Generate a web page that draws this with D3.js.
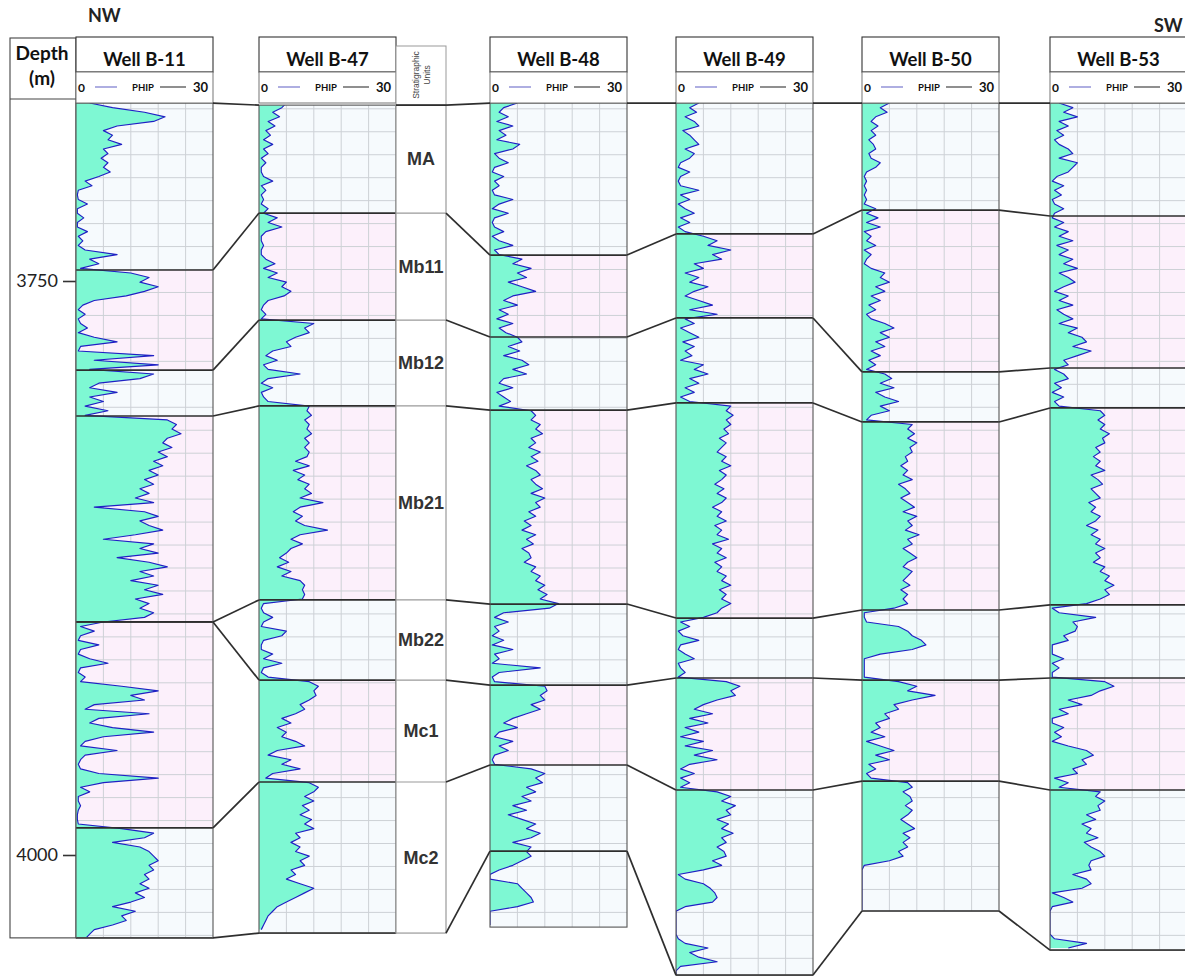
<!DOCTYPE html>
<html>
<head>
<meta charset="utf-8">
<script src="https://cdn.jsdelivr.net/npm/d3@7"></script>
<style>
  body { margin: 0; background: #fff; }
  svg { display: block; }
</style>
</head>
<body>
<svg id="chart" width="1185" height="980"></svg>
<script>
// ---------------- data ----------------
const wellNames = ["Well B-11", "Well B-47", "Well B-48", "Well B-49", "Well B-50", "Well B-53"];
const zoneNames = ["MA", "Mb11", "Mb12", "Mb21", "Mb22", "Mc1", "Mc2"];

// Formation tops (m): top MA, Mb11, Mb12, Mb21, Mb22, Mc1, Mc2, base Mc2
const topsB11 = [3672.5, 3745.2, 3788.8, 3808.8, 3898.5, 3898.5, 3988.2, 4036.1];
const topsB47 = [3673.4, 3720.4, 3767.0, 3804.4, 3888.9, 3923.8, 3968.2, 4034.0];
const topsB48 = [3672.5, 3738.7, 3774.4, 3806.2, 3890.7, 3926.0, 3960.8, 3998.3];
const topsB49 = [3672.5, 3729.5, 3766.1, 3803.1, 3896.8, 3922.9, 3971.7, 4052.3];
const topsB50 = [3672.5, 3719.1, 3789.6, 3811.4, 3893.3, 3923.8, 3967.8, 4024.4];
const topsB53 = [3672.5, 3721.7, 3787.9, 3805.3, 3891.1, 3922.9, 3971.7, 4041.4];

// Deepest logged depth of each well (m)
const logBottom = [4036.1, 4034.0, 4031.4, 4052.3, 4024.4, 4041.4];

// PHIP samples (%), first sample at 3672.5 m, one sample every 2 m
const sampleTop = 3672.5;
const sampleStep = 2;

const phipB11 = [
  3, 8, 15, 19.5, 17, 9, 6, 8, 7, 10, 6, 7, 5.5, 7, 6, 7.5, 5, 2, 3.5, 0.5, 0.3, 0.5, 2.5, 0.3, 0.3, 1.7, 0.3, 0.3, 2.5, 0.5, 1.5, 0.5, 2, 9, 3, 5, 1,
  12, 16, 14, 18, 15, 11, 4, 1.5, 0.5, 2, 0.5, 1, 2.5, 0.5, 4, 9, 1, 0.5, 17, 4, 18, 3,
  17, 14, 5, 3, 9, 3, 6, 2, 7, 2,
  20, 22, 21, 23, 20, 19, 21, 18, 20, 17, 19, 16, 18, 15, 17, 14, 16, 13, 17, 4, 15, 18, 14, 16, 19, 13, 6, 17, 14, 18, 9, 16, 20, 14, 17, 12, 18, 15, 19, 13, 16, 14, 17, 15, 6,
  1, 4, 1, 0.5, 5, 1, 0.5, 3, 7, 1, 0.5, 2, 1, 10, 18, 12, 15, 4, 2, 16, 5, 3, 8, 17, 6, 2, 1, 9, 2, 1, 0.5, 1, 5, 18, 6, 1, 3, 0.5, 0.5, 1, 0.5, 0.3, 0.3, 0.5,
  10, 17, 15, 8, 14, 16, 17, 18, 16, 17, 15, 16, 14, 16, 13, 15, 12, 8, 13, 10, 11, 8, 4, 3, 2
];
const phipB47 = [
  6, 5, 3, 4.5, 2, 3.5, 1.5, 2.5, 1, 3, 1, 2, 0.5, 1.5, 0.5, 0.5, 1, 3, 0.5, 1.5, 0.5, 1, 0.5, 2,
  1, 4, 2, 5, 1.5, 0.5, 0.5, 1, 0.5, 0.5, 1.5, 3.5, 1, 4, 2, 6, 5, 7, 5.5, 2, 1, 0.5, 1.5, 0.5,
  12, 10, 11, 8, 6, 7, 3, 1.5, 4, 1, 2, 9, 2, 0.5, 3, 0.5, 1, 2,
  11, 10.5, 11.5, 10, 11, 10.5, 11.5, 10, 11, 10, 11, 10.5, 8, 11, 7.5, 10, 8.5, 11, 10, 11.5, 9, 14, 9, 7.5, 9.5, 8, 10, 15, 9, 7, 9.5, 7, 6, 4.5, 6.5, 4, 7, 5, 9, 10, 9.5, 10, 9.5,
  1, 0.5, 1, 3, 1, 0.5, 6, 5, 1, 0.5, 0.5, 3, 1, 5, 1, 0.5, 2,
  11, 13, 12, 12.5, 11, 9, 10, 8, 5, 7, 4, 6, 5, 8, 10, 4, 2, 7, 5, 9, 3, 1.5,
  11, 13, 12, 10, 12, 9.5, 11, 9, 11.5, 10, 12, 8, 9, 7, 9, 8, 11, 9, 10, 7, 8, 6, 9, 12, 10, 8, 6, 4, 3, 2, 1.5, 1, 0.5
];
const phipB48 = [
  6, 3, 2, 4, 1.5, 5, 2, 3.5, 1.5, 6.5, 5, 1, 2, 4, 1, 0.5, 3, 1, 2, 0.5, 1, 5, 2, 0.5, 4, 1, 0.5, 1, 3, 0.5, 2, 5, 1, 2,
  7, 5, 9, 6, 8, 4, 7, 10, 5, 3, 6, 2, 4, 1.5, 5, 2, 3.5,
  6, 7, 4, 6.5, 3, 7, 8.5, 5, 8, 3, 2, 5, 1.5, 3, 4.5, 2,
  9, 10, 9, 11, 10, 11.5, 9, 10, 8.5, 11, 9, 10.5, 8, 10, 11, 9, 10, 11.5, 9, 12, 10, 11, 8.5, 10, 7.5, 9, 7, 10, 8, 9.5, 7, 8.5, 9, 7.5, 10, 9, 11, 10, 12, 10.5, 12.5, 11, 15,
  13, 3, 1, 4, 1, 2, 0.5, 3, 0.5, 5, 1, 2, 0.5, 11, 2, 0.5, 1,
  12, 12.5, 11, 12, 9, 11, 8, 5, 3, 6, 2, 1, 5, 2, 4, 1, 0.5, 1,
  9, 12, 10, 11.5, 8, 10, 7, 9, 5, 8, 4, 7, 10, 8, 11, 9, 5, 9, 8, 9, 7, 5, 2, 0, 0, 6, 7, 8, 9, 9.5, 6, 0, 0, 0, 0
];
const phipB49 = [
  5, 3, 4.5, 2, 4, 5, 1.5, 3, 4, 5, 2, 4, 3, 1, 0.5, 3, 1, 0.5, 1, 5, 1, 3, 0.5, 2, 4, 1, 3, 0.5, 2,
  6, 9, 7, 12, 8, 10, 4, 6, 2, 5, 3, 7, 4, 2, 5, 8, 3, 9,
  2, 4, 1, 3, 5, 1.5, 4, 2, 3.5, 1, 6, 4, 7, 3, 5, 2, 4, 1, 3,
  12, 11, 12.5, 11, 12, 10.5, 11.5, 9.5, 11, 10, 9, 11, 10, 12, 9.5, 11, 10, 8.5, 10.5, 9, 11, 10, 8, 10, 9, 11, 8.5, 10, 9, 11.5, 8, 10, 9, 11, 8.5, 10, 9, 11, 10, 12, 9.5, 11, 10, 12, 10, 9, 6,
  1, 3, 0.5, 1.5, 5, 1, 0.5, 2, 4, 0.5, 1, 2, 0.5,
  11, 14, 12, 13, 9, 6, 4, 8, 3, 7, 2, 5, 1, 6, 2, 8, 4, 9, 3, 1, 4, 1, 3, 1,
  9, 12, 10, 13, 11, 12, 9, 11.5, 10, 12.5, 10, 11, 9, 10.5, 11, 8, 10, 6, 0.5, 2, 6, 7.5, 8.5, 9, 8, 2, 0, 0, 0, 0, 0, 0, 0.5, 2, 7, 3, 5, 9, 1, 0, 0
];
const phipB50 = [
  6, 4, 5.5, 3, 2, 3.5, 2, 3, 1.5, 2.5, 3, 1.5, 2, 4, 3, 1, 0.5, 1, 0.5, 1, 0.5, 1, 0.5, 3,
  1, 3.5, 1, 4, 0.5, 2, 1, 3, 0.5, 2, 1, 0.5, 2, 5, 4, 6, 3, 5, 2, 4, 1.5, 3, 1, 2, 5, 7, 4, 6, 3, 5, 2, 4, 1.5, 3, 1,
  5, 6.5, 4, 7, 3, 5, 8, 4, 6, 2, 1,
  11, 10, 11.5, 10, 12, 10.5, 11, 9.5, 10, 8.5, 10, 9, 11, 8, 9.5, 10.5, 8.5, 10, 11.5, 9, 12, 10, 11, 9.5, 12.5, 10, 11, 9, 10.5, 12, 10, 9, 11, 10, 9, 10.5, 8.5, 10, 9, 10, 7,
  0.5, 0.5, 1, 8, 10, 11, 13, 14, 11, 4, 0.5, 0.5, 0.5, 0.5, 0.5,
  8, 12, 10, 16, 11, 7, 8, 5, 6, 3, 4, 2, 5, 1, 4, 7, 3, 6, 1.5, 3, 1, 2,
  10, 11, 9, 10.5, 11, 9.5, 11, 10, 8.5, 10, 11.5, 9, 10.5, 9, 10, 8, 9, 6, 0.5, 0, 0, 0, 0, 0, 0, 0, 0, 0, 0
];
const phipB53 = [
  2, 5, 3, 6, 2, 4, 1.5, 3, 1, 2, 4, 5, 2, 6, 5, 4, 1.5, 0.5, 3, 1, 2.5, 0.5, 1, 3, 1,
  0.5, 3, 1, 4, 2, 5, 1.5, 4, 2, 5, 3, 6, 2, 4, 5.5, 3, 1, 4, 2, 5, 1.5, 3, 5, 2, 6, 4, 7, 8, 5, 9, 6, 3, 4,
  1, 3, 4, 1, 2.5, 0.5, 3, 1, 2,
  11, 12, 10.5, 12, 11, 13, 11.5, 12, 10, 11, 9.5, 11, 10, 12, 9, 10.5, 11.5, 9, 10, 11, 8.5, 10, 9, 11, 10, 8, 10.5, 9, 11, 10, 12, 10, 11, 9.5, 12, 11, 13, 12, 14, 12, 13, 11, 8,
  0.5, 2, 10, 5, 6, 5.5, 3, 4, 0.5, 0.5, 0.5, 3, 0.5, 2, 0.5, 0.5,
  12, 14, 11, 9, 4, 7, 2, 4, 0.5, 0.5, 3, 1, 2.5, 0.5, 4, 8, 9.5, 7, 8, 5, 6, 1, 4, 2,
  11, 10, 12, 10.5, 11, 8, 10, 7, 9, 8, 10.5, 7.5, 9, 11, 12, 9, 8.5, 9, 5, 8, 9, 7, 0.5, 3, 5, 0.5, 0, 0, 0, 0, 0, 0, 1, 8, 4
];

const depthTicks = [3750, 4000];
const phipDomain = [0, 30];
const phipGrid = [6, 12, 18, 24];

// ---------------- layout ----------------
const trackLeft = [76, 259, 490, 676, 862, 1050];
const trackW = 137;
const stratL = 396, stratR = 446;
const nameTop = 37, nameBot = 72, legendBot = 103;

const COL_TINT = "#fcf0fb";
const COL_PLAIN = "#f6fafd";
const COL_GRID = "#cdd1d6";
const COL_FILL = "#7ef8d3";
const COL_CURVE = "#2020c4";
const COL_BOUND = "#2e2e2e";

const svg = d3.select("#chart");
const defs = svg.append("defs");

const y = d3.scaleLinear().domain([3750, 4000]).range([281, 855]);
const x = d3.scaleLinear().domain(phipDomain).range([0, trackW]);

const wellTops = [topsB11, topsB47, topsB48, topsB49, topsB50, topsB53];
const wellPhip = [phipB11, phipB47, phipB48, phipB49, phipB50, phipB53];

const wells = wellNames.map((name, i) => ({
  name,
  tops: wellTops[i],
  bottom: logBottom[i],
  samples: wellPhip[i].map((v, j) => ({ depth: sampleTop + j * sampleStep, v }))
}));

// ---------------- depth column ----------------
const depthG = svg.append("g");
depthG.append("rect").attr("x", 10).attr("y", 38).attr("width", 66).attr("height", y(topsB11[7]) - 38)
  .attr("fill", "#fff").attr("stroke", "#444").attr("stroke-width", 1.1);
depthG.append("line").attr("x1", 10).attr("x2", 76).attr("y1", 99).attr("y2", 99)
  .attr("stroke", "#444").attr("stroke-width", 1.1);
depthG.append("text").attr("x", 42).attr("y", 60).attr("text-anchor", "middle")
  .attr("font-family", "Lato, 'Open Sans', sans-serif").attr("font-weight", 700).attr("font-size", 19)
  .attr("fill", "#111").text("Depth");
depthG.append("text").attr("x", 42).attr("y", 85).attr("text-anchor", "middle")
  .attr("font-family", "Lato, 'Open Sans', sans-serif").attr("font-weight", 700).attr("font-size", 19)
  .attr("fill", "#111").text("(m)");

const axis = d3.axisLeft(y).tickValues(depthTicks).tickSize(13).tickPadding(5).tickFormat(d3.format("d"));
const axisG = svg.append("g").attr("transform", `translate(${trackLeft[0]},0)`).call(axis);
axisG.select(".domain").remove();
axisG.selectAll(".tick line").attr("stroke", "#333").attr("stroke-width", 1.6);
axisG.selectAll(".tick text").attr("font-family", "Lato, 'Open Sans', sans-serif")
  .attr("font-size", 18).attr("fill", "#222");

// ---------------- well tracks ----------------
wells.forEach((w, i) => {
  const L = trackLeft[i];
  const g = svg.append("g").attr("transform", `translate(${L},0)`);
  const yTop = y(w.tops[0]);
  const yBot = y(w.bottom);

  // zone shading
  for (let k = 0; k < zoneNames.length; k++) {
    const y0 = y(w.tops[k]), y1 = y(w.tops[k + 1]);
    if (y1 - y0 <= 0) continue;
    g.append("rect").attr("x", 0).attr("width", trackW).attr("y", y0).attr("height", y1 - y0)
      .attr("fill", k % 2 === 1 ? COL_TINT : COL_PLAIN);
  }
  if (w.bottom > w.tops[7]) {
    g.append("rect").attr("x", 0).attr("width", trackW).attr("y", y(w.tops[7]))
      .attr("height", yBot - y(w.tops[7])).attr("fill", COL_PLAIN);
  }

  // grid
  const grid = g.append("g").attr("stroke", COL_GRID).attr("stroke-width", 1);
  grid.selectAll("line.v").data(phipGrid).join("line").attr("class", "v")
    .attr("x1", d => x(d)).attr("x2", d => x(d)).attr("y1", yTop).attr("y2", yBot);
  const hDepths = d3.range(Math.ceil((w.tops[0] - 5) / 10) * 10 + 5, w.bottom, 10).filter(d => d > w.tops[0] + 1);
  grid.selectAll("line.h").data(hDepths).join("line").attr("class", "h")
    .attr("x1", 0).attr("x2", trackW).attr("y1", d => y(d)).attr("y2", d => y(d));

  // porosity curve
  defs.append("clipPath").attr("id", `clip-${i}`).append("rect")
    .attr("x", 0).attr("y", yTop).attr("width", trackW).attr("height", yBot - yTop);
  const cg = g.append("g").attr("clip-path", `url(#clip-${i})`);
  const area = d3.area().x0(x(0)).x1(d => x(d.v)).y(d => y(d.depth));
  const line = d3.line().x(d => x(d.v)).y(d => y(d.depth));
  cg.append("path").datum(w.samples).attr("d", area).attr("fill", COL_FILL);
  cg.append("path").datum(w.samples).attr("d", line).attr("fill", "none")
    .attr("stroke", COL_CURVE).attr("stroke-width", 1.15).attr("stroke-linejoin", "round");

  // formation boundaries across the track
  g.selectAll("line.bound").data(w.tops.slice(1)).join("line").attr("class", "bound")
    .attr("x1", 0).attr("x2", trackW).attr("y1", d => y(d)).attr("y2", d => y(d))
    .attr("stroke", COL_BOUND).attr("stroke-width", 1.7);

  // track frame
  g.append("rect").attr("x", 0).attr("y", yTop).attr("width", trackW).attr("height", yBot - yTop)
    .attr("fill", "none").attr("stroke", "#555").attr("stroke-width", 1.1);

  // header: well name
  g.append("rect").attr("x", 0).attr("y", nameTop).attr("width", trackW).attr("height", nameBot - nameTop)
    .attr("fill", "#fff").attr("stroke", "#333").attr("stroke-width", 1.1);
  g.append("text").attr("x", trackW / 2).attr("y", 66).attr("text-anchor", "middle")
    .attr("font-family", "Lato, 'Open Sans', sans-serif").attr("font-weight", 700).attr("font-size", 18.5)
    .attr("fill", "#111").text(w.name);

  // header: curve legend
  g.append("rect").attr("x", 0).attr("y", nameBot).attr("width", trackW).attr("height", legendBot - nameBot)
    .attr("fill", "#fff").attr("stroke", "#666").attr("stroke-width", 0.9);
  const lg = g.append("g").attr("font-family", "Lato, 'Open Sans', sans-serif").attr("font-weight", 700).attr("fill", "#111");
  lg.append("text").attr("x", 2).attr("y", 92).attr("font-size", 12).text(phipDomain[0]);
  lg.append("text").attr("x", trackW - 5).attr("y", 92).attr("text-anchor", "end").attr("font-size", 13).text(phipDomain[1]);
  lg.append("text").attr("x", 67).attr("y", 91).attr("text-anchor", "middle").attr("font-size", 9.5).text("PHIP");
  g.append("line").attr("x1", 19).attr("x2", 41).attr("y1", 87).attr("y2", 87).attr("stroke", "#6c6cc8").attr("stroke-width", 1.1);
  g.append("line").attr("x1", 84).attr("x2", 110).attr("y1", 87).attr("y2", 87).attr("stroke", "#333").attr("stroke-width", 1.1);
});

// ---------------- stratigraphic column ----------------
const sg = svg.append("g");
const sTop = y(topsB47[0]), sBot = y(topsB47[7]);
sg.append("rect").attr("x", stratL).attr("y", 46).attr("width", stratR - stratL).attr("height", sTop - 46)
  .attr("fill", "#fff").attr("stroke", "#999").attr("stroke-width", 1);
sg.append("text").attr("transform", `translate(${419},${75}) rotate(-90)`).attr("text-anchor", "middle")
  .attr("font-family", "'Liberation Sans', Arial, sans-serif").attr("font-size", 8.5).attr("fill", "#444")
  .text("Stratigraphic");
sg.append("text").attr("transform", `translate(${430},${75}) rotate(-90)`).attr("text-anchor", "middle")
  .attr("font-family", "'Liberation Sans', Arial, sans-serif").attr("font-size", 8.5).attr("fill", "#444")
  .text("Units");
sg.append("rect").attr("x", stratL).attr("y", sTop).attr("width", stratR - stratL).attr("height", sBot - sTop)
  .attr("fill", "#fff").attr("stroke", "#999").attr("stroke-width", 1.2);
sg.selectAll("line.sb").data(topsB47.slice(1, 7)).join("line").attr("class", "sb")
  .attr("x1", stratL).attr("x2", stratR).attr("y1", d => y(d)).attr("y2", d => y(d))
  .attr("stroke", "#9a9a9a").attr("stroke-width", 1.2);
sg.selectAll("text.zone").data(zoneNames).join("text").attr("class", "zone")
  .attr("x", (stratL + stratR) / 2)
  .attr("y", (d, k) => (y(topsB47[k]) + y(topsB47[k + 1])) / 2 + 6)
  .attr("text-anchor", "middle")
  .attr("font-family", "'Liberation Sans', Arial, sans-serif").attr("font-weight", 700).attr("font-size", 18)
  .attr("fill", "#333").text(d => d);
// top line crosses the column
sg.append("line").attr("x1", stratL).attr("x2", stratR).attr("y1", sTop).attr("y2", sTop)
  .attr("stroke", COL_BOUND).attr("stroke-width", 1.7);

// ---------------- correlation lines ----------------
const links = [
  { a: 0, b: 1, xa: trackLeft[0] + trackW, xb: trackLeft[1] },
  { a: 1, b: 2, xa: stratR, xb: trackLeft[2] },
  { a: 2, b: 3, xa: trackLeft[2] + trackW, xb: trackLeft[3] },
  { a: 3, b: 4, xa: trackLeft[3] + trackW, xb: trackLeft[4] },
  { a: 4, b: 5, xa: trackLeft[4] + trackW, xb: trackLeft[5] }
];
const corr = svg.append("g").attr("stroke", COL_BOUND).attr("stroke-width", 1.7);
links.forEach(l => {
  wells[l.a].tops.forEach((d, k) => {
    corr.append("line").attr("x1", l.xa).attr("y1", y(d))
      .attr("x2", l.xb).attr("y2", y(wells[l.b].tops[k]));
  });
});

// ---------------- section direction ----------------
svg.append("text").attr("x", 88).attr("y", 22)
  .attr("font-family", "Lato, 'Open Sans', sans-serif").attr("font-weight", 700).attr("font-size", 18)
  .attr("fill", "#222").text("NW");
svg.append("text").attr("x", 1154).attr("y", 32)
  .attr("font-family", "Lato, 'Open Sans', sans-serif").attr("font-weight", 700).attr("font-size", 18)
  .attr("fill", "#222").text("SW");
</script>
</body>
</html>
